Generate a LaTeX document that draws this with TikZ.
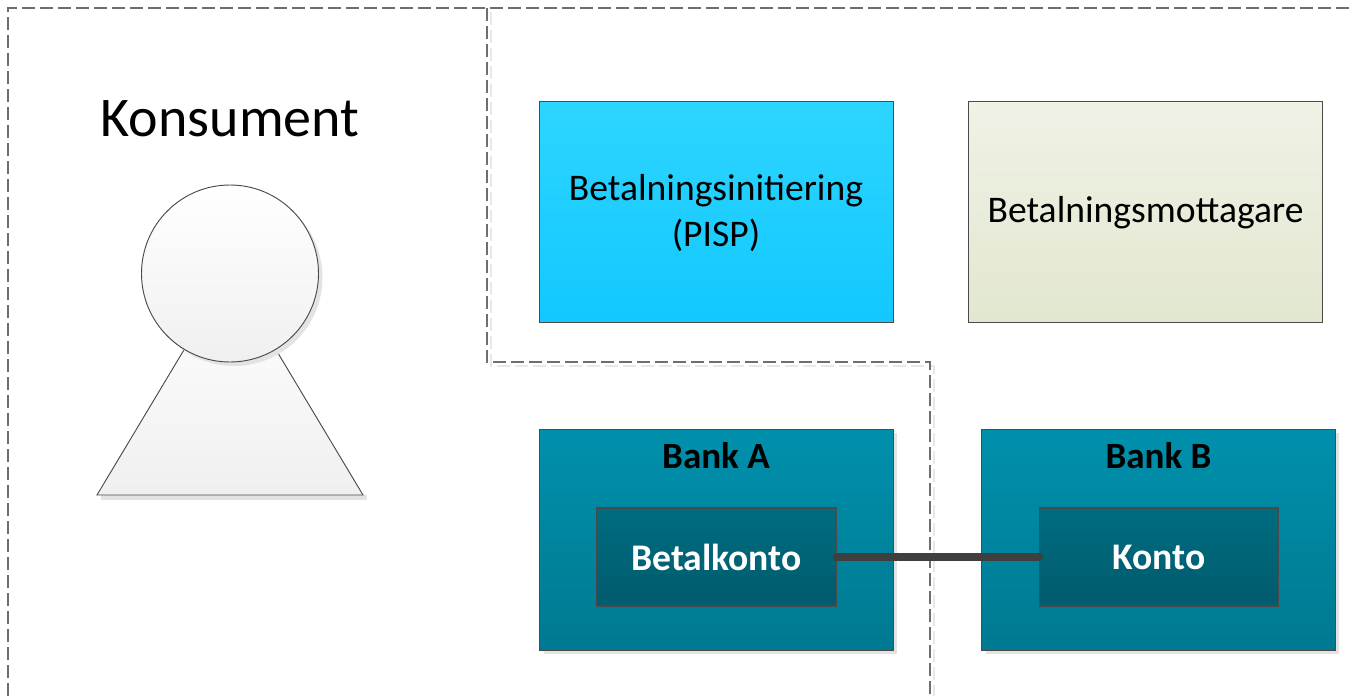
\documentclass[tikz,border=0pt]{standalone}
\usepackage{fontspec}
\setmainfont{Carlito}
\usetikzlibrary{shadows}
\definecolor{dashc}{HTML}{6E6E6E}
\definecolor{dashs}{HTML}{E8E8E8}
\definecolor{edge}{HTML}{4A4A4A}
\tikzset{
  x=0.75pt,y=-0.75pt,
  shadowed/.style={drop shadow={shadow xshift=3pt,shadow yshift=-3pt,fill=black!11,opacity=1}},
  bigbox/.style={rectangle,draw=edge,line width=0.9pt,minimum width=265.4pt,minimum height=165.75pt,inner sep=0pt,align=center,font=\fontsize{28.2}{34.5}\selectfont},
  bankbox/.style={bigbox,shadowed,top color=bankt,bottom color=bankb,anchor=north west},
  innerbox/.style={rectangle,draw=edge,line width=0.9pt,minimum width=179.5pt,minimum height=73.5pt,inner sep=0pt,top color=innt,bottom color=innb,text=white,font=\fontsize{28.2}{34.5}\selectfont\bfseries},
  banklabel/.style={font=\fontsize{27.8}{34}\selectfont\bfseries,inner sep=0pt},
  zone/.style={dashc,line width=0.9pt,dash pattern=on 9.5pt off 4pt},
  zoneshadow/.style={dashs,line width=0.9pt,dash pattern=on 9.5pt off 4pt},
  person/.style={draw=edge,line width=0.7pt},
  link/.style={draw=edge!85!black,line width=6.4pt,line cap=round},
}
\definecolor{bankt}{HTML}{0090AC}
\definecolor{bankb}{HTML}{007991}
\definecolor{innt}{HTML}{006C80}
\definecolor{innb}{HTML}{005B6D}
\begin{document}
\begin{tikzpicture}
\path[use as bounding box] (0,0) rectangle (1353,696);
% zone shadows
\draw[zoneshadow] (491,12) -- (491,366) -- (934,366) -- (934,696);
% zones
\draw[zone] (8,696) -- (8,8) -- (1353,8);
\draw[zone] (487,8) -- (487,362) -- (930,362) -- (930,696);
% person
\coordinate (apex) at (230,273);
\coordinate (baseL) at (97,495);
\coordinate (baseR) at (363,495);
\fill[black!11] (101,495) -- (367,495) -- (367,500) -- (101,500) -- cycle;
\draw[person,top color=white,bottom color=black!6] (apex) -- (baseL) -- (baseR) -- cycle;
\node[circle,person,minimum size=132.75pt,inner sep=0pt,top color=white,bottom color=black!6,shadowed] (head) at (230,273.5) {};
\node[font=\fontsize{42}{50}\selectfont,inner sep=0pt] (kons) at (230,119) {Konsument};
% top boxes
\node[bigbox,anchor=north west,top color={rgb,255:red,45;green,213;blue,255},bottom color={rgb,255:red,18;green,200;blue,255}] (pisp) at (539,100.6) {};
\node[bigbox,anchor=north west,top color={rgb,255:red,239;green,242;blue,229},bottom color={rgb,255:red,226;green,231;blue,208}] (payee) at (968,100.6) {\raisebox{-8pt}[0pt][0pt]{Betalningsmottagare}};
\node[align=center,font=\fontsize{28.2}{34.5}\selectfont,inner sep=0pt] (pisptext) at (716,213) {Betalningsinitiering\\(PISP)};
% banks
\node[bankbox] (bankA) at (539,428.6) {};
\node[bankbox] (bankB) at (981,428.6) {};
\node[banklabel] (labelA) at (716,456) {Bank A};
\node[banklabel] (labelB) at (1158.5,456) {Bank B};
\node[innerbox] (betal) at (716.5,557) {Betalkonto};
\node[innerbox] (konto) at (1159,557) {Konto};
\draw[link] (betal.east) -- (konto.west);
\end{tikzpicture}
\end{document}
